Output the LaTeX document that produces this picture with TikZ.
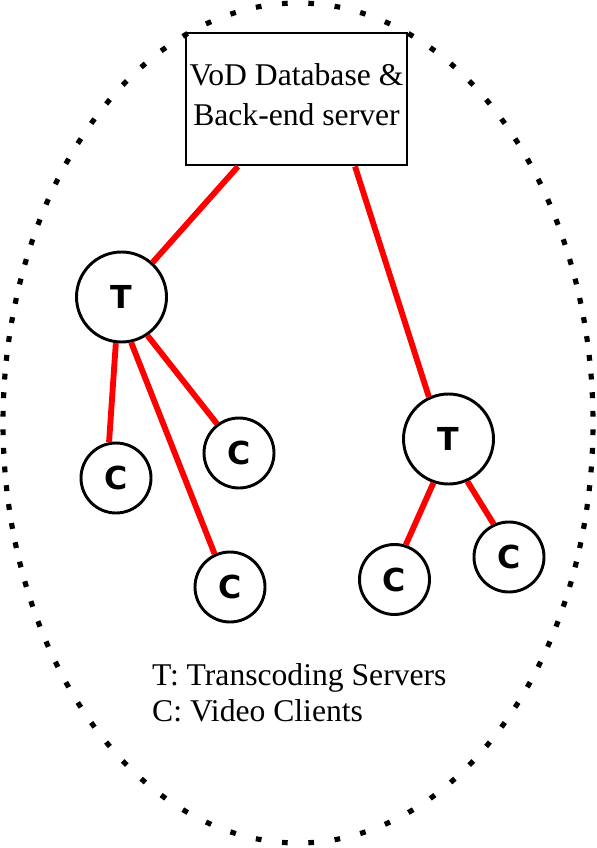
\documentclass[tikz,border=0pt]{standalone}
\usepackage{fontspec}
\setmainfont{Liberation Serif}
\newfontfamily\nodefont{DejaVu Sans}

\begin{document}
\begin{tikzpicture}[x=0.03cm, y=-0.03cm]
\tikzstyle{server} = [draw, rectangle, line width=2.5pt, minimum width=6.63cm, minimum height=3.96cm, inner sep=0pt, text depth=7pt, align=center, font=\fontsize{27}{34}\selectfont]
\tikzstyle{trans} = [draw, circle, line width=2.5pt, minimum size=2.7cm, inner sep=0pt, font=\nodefont\bfseries\fontsize{27}{27}\selectfont]
\tikzstyle{client} = [trans, minimum size=2.1cm]
\tikzstyle{link} = [red, line width=5pt]
\tikzstyle{legend} = [anchor=base west, inner sep=0pt, font=\fontsize{27}{34}\selectfont]
\tikzstyle{dot} = [line width=4.4pt, line cap=rect]

\useasboundingbox (0,0) rectangle (597,848);

% dotted boundary, dots evenly spaced by angle
\foreach \p in {1.8,5.4,...,360} {
  \pgfmathsetmacro\t{atan2(295*sin(\p),420*cos(\p))}
  \draw[dot] ({298+295*cos(\t-0.05)},{423+420*sin(\t-0.05)}) -- ({298+295*cos(\t+0.05)},{423+420*sin(\t+0.05)});
}

\node[server] (db) at (296.5,99) {VoD Database \&\\Back-end server};

\node[trans] (t1) at (121.5,297) {T};
\node[trans] (t2) at (448.5,439) {T};

\node[client] (c1) at (116,478) {C};
\node[client] (c2) at (239,453) {C};
\node[client] (c3) at (230,587) {C};
\node[client] (c4) at (394.5,579.5) {C};
\node[client] (c5) at (509,557) {C};

\draw[link] ([xshift=-1.755cm]db.south) -- (t1.48);
\draw[link] ([xshift=1.755cm]db.south) -- (t2.115);

\draw[link] (t1.263) -- (c1.101);
\draw[link] (t1.304) -- (c2.127);
\draw[link] (t1.282) -- (c3.115);
\draw[link] (t2.251) -- (c4.72);
\draw[link] (t2.294) -- (c5.115);

\node[legend] (legt) at (152,685) {T: Transcoding Servers};
\node[legend] (legc) at (152,721) {C: Video Clients};

\end{tikzpicture}
\end{document}
